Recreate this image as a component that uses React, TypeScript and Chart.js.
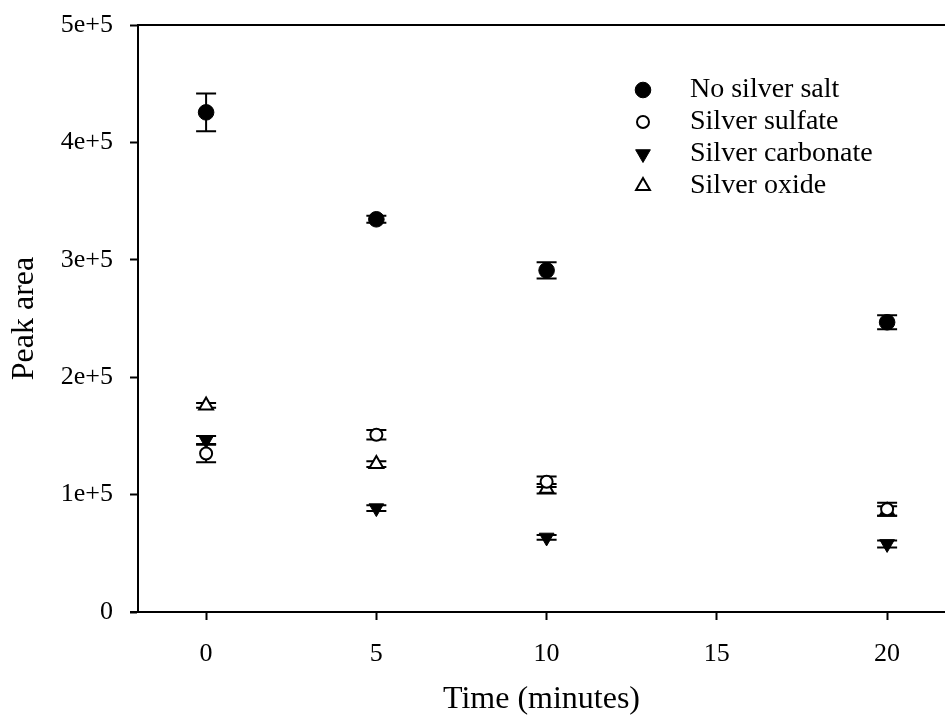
import React, { useEffect, useRef } from 'react';
import { Chart, registerables } from 'chart.js';
import { drawPoint } from 'chart.js/helpers';

Chart.register(...registerables);

// ---- data ----
const TIMES = [0, 5, 10, 20];
const NO_SALT = [425600, 334500, 291000, 246800];
const NO_SALT_ERR = [16000, 3000, 7000, 6000];
const SULFATE = [135000, 151000, 111000, 87500];
const SULFATE_ERR = [7500, 4000, 4500, 5500];
const CARBONATE = [146500, 88500, 63500, 58000];
const CARBONATE_ERR = [3500, 2500, 2000, 3000];
const OXIDE = [176000, 126000, 105000, 86000];
const OXIDE_ERR = [2000, 2500, 4000, 4000];

const SERIES_LABELS = ['No silver salt', 'Silver sulfate', 'Silver carbonate', 'Silver oxide'];
const X_TICKS = [0, 5, 10, 15, 20];
const Y_TICKS = [0, 100000, 200000, 300000, 400000, 500000];
const Y_TICK_LABELS = ['0', '1e+5', '2e+5', '3e+5', '4e+5', '5e+5'];
const X_TITLE = 'Time (minutes)';
const Y_TITLE = 'Peak area';

const FONT = '"Liberation Serif", "Times New Roman", serif';

const toPoints = (ys: number[]) => TIMES.map((t, i) => ({ x: t, y: ys[i] }));

const errorBarPlugin = {
  id: 'errorBars',
  beforeDatasetsDraw(chart: any) {
    const { ctx } = chart;
    const yScale = chart.scales.y;
    const xScale = chart.scales.x;
    ctx.save();
    ctx.strokeStyle = '#000';
    ctx.lineWidth = 2;
    chart.data.datasets.forEach((ds: any) => {
      const errs: number[] = ds.errors || [];
      ds.data.forEach((p: any, i: number) => {
        const e = errs[i];
        if (!e) return;
        const x = xScale.getPixelForValue(p.x);
        const yTop = yScale.getPixelForValue(p.y + e);
        const yBot = yScale.getPixelForValue(p.y - e);
        const cap = 10;
        ctx.beginPath();
        ctx.moveTo(x, yTop);
        ctx.lineTo(x, yBot);
        ctx.moveTo(x - cap, yTop);
        ctx.lineTo(x + cap, yTop);
        ctx.moveTo(x - cap, yBot);
        ctx.lineTo(x + cap, yBot);
        ctx.stroke();
      });
    });
    ctx.restore();
  },
};

const topFramePlugin = {
  id: 'topFrame',
  afterDraw(chart: any) {
    const { ctx, chartArea } = chart;
    ctx.save();
    ctx.strokeStyle = '#000';
    ctx.lineWidth = 2;
    ctx.beginPath();
    ctx.moveTo(chartArea.left - 1, chartArea.top);
    ctx.lineTo(chartArea.right, chartArea.top);
    ctx.moveTo(chartArea.left - 8, chartArea.bottom);
    ctx.lineTo(chartArea.left, chartArea.bottom);
    ctx.stroke();
    ctx.restore();
  },
};

const legendPlugin = {
  id: 'insideLegend',
  afterDraw(chart: any) {
    const { ctx, chartArea } = chart;
    const markerX = chartArea.right - 302;
    const textX = chartArea.right - 255;
    const startY = chartArea.top + 65;
    const rowH = 32;
    ctx.save();
    chart.data.datasets.forEach((ds: any, i: number) => {
      const y = startY + i * rowH;
      ctx.fillStyle = ds.backgroundColor;
      ctx.strokeStyle = ds.borderColor;
      ctx.lineWidth = ds.borderWidth;
      drawPoint(
        ctx,
        {
          pointStyle: ds.pointStyle,
          rotation: ds.rotation || 0,
          radius: ds.pointRadius,
          borderWidth: ds.borderWidth,
        },
        markerX,
        y
      );
      ctx.fillStyle = '#000';
      ctx.font = `28px ${FONT}`;
      ctx.textAlign = 'left';
      ctx.textBaseline = 'middle';
      ctx.fillText(ds.label, textX, y);
    });
    ctx.restore();
  },
};

export default function App() {
  const canvasRef = useRef<HTMLCanvasElement | null>(null);

  useEffect(() => {
    if (!canvasRef.current) return;
    const chart = new Chart(canvasRef.current, {
      type: 'scatter',
      data: {
        datasets: [
          {
            label: SERIES_LABELS[0],
            data: toPoints(NO_SALT),
            errors: NO_SALT_ERR,
            pointStyle: 'circle',
            pointRadius: 7.8,
            backgroundColor: '#000',
            borderColor: '#000',
            borderWidth: 1,
          },
          {
            label: SERIES_LABELS[1],
            data: toPoints(SULFATE),
            errors: SULFATE_ERR,
            pointStyle: 'circle',
            pointRadius: 6,
            backgroundColor: '#fff',
            borderColor: '#000',
            borderWidth: 2,
          },
          {
            label: SERIES_LABELS[2],
            data: toPoints(CARBONATE),
            errors: CARBONATE_ERR,
            pointStyle: 'triangle',
            rotation: 180,
            pointRotation: 180,
            pointRadius: 8.5,
            backgroundColor: '#000',
            borderColor: '#000',
            borderWidth: 1,
          },
          {
            label: SERIES_LABELS[3],
            data: toPoints(OXIDE),
            errors: OXIDE_ERR,
            pointStyle: 'triangle',
            pointRadius: 8,
            backgroundColor: '#fff',
            borderColor: '#000',
            borderWidth: 2,
          },
        ] as any,
      },
      options: {
        animation: false,
        responsive: false,
        maintainAspectRatio: false,
        layout: { autoPadding: false, padding: { top: 25, left: 0, right: 0, bottom: 0 } },
        plugins: {
          legend: { display: false },
          tooltip: { enabled: false },
        },
        elements: { point: { hoverRadius: 0 } },
        scales: {
          x: {
            type: 'linear',
            min: -2,
            max: 21.7,
            afterBuildTicks: (s: any) => {
              s.ticks = X_TICKS.map((v) => ({ value: v }));
            },
            afterFit: (s: any) => {
              s.height = 107;
              s.paddingRight = 0;
              s.paddingLeft = 0;
            },
            ticks: {
              color: '#000',
              font: { family: FONT, size: 26 },
              padding: 19,
              maxRotation: 0,
            },
            grid: {
              drawOnChartArea: false,
              drawTicks: true,
              tickLength: 8,
              tickWidth: 2,
              color: '#000',
            },
            border: { display: true, color: '#000', width: 2 },
            title: {
              display: true,
              text: X_TITLE,
              color: '#000',
              font: { family: FONT, size: 32 },
              padding: { top: 0, bottom: 0 },
            },
          },
          y: {
            type: 'linear',
            min: 0,
            max: 500000,
            afterBuildTicks: (s: any) => {
              s.ticks = Y_TICKS.map((v) => ({ value: v }));
            },
            afterFit: (s: any) => {
              s.width = 138;
              s.paddingTop = 0;
              s.paddingBottom = 0;
            },
            ticks: {
              color: '#000',
              font: { family: FONT, size: 26 },
              padding: 17,
              callback: (_v: any, i: number) => Y_TICK_LABELS[i],
            },
            grid: {
              drawOnChartArea: false,
              drawTicks: true,
              tickLength: 8,
              tickWidth: 2,
              color: '#000',
            },
            border: { display: true, color: '#000', width: 2 },
            title: {
              display: true,
              text: Y_TITLE,
              color: '#000',
              font: { family: FONT, size: 32 },
              padding: { top: 5, bottom: 0 },
            },
          },
        },
      } as any,
      plugins: [errorBarPlugin, topFramePlugin, legendPlugin],
    });
    return () => chart.destroy();
  }, []);

  return (
    <div style={{ position: 'fixed', left: 0, top: 0, width: 945, height: 719, background: '#fff' }}>
      <canvas ref={canvasRef} width={945} height={719} style={{ display: 'block' }} />
    </div>
  );
}
